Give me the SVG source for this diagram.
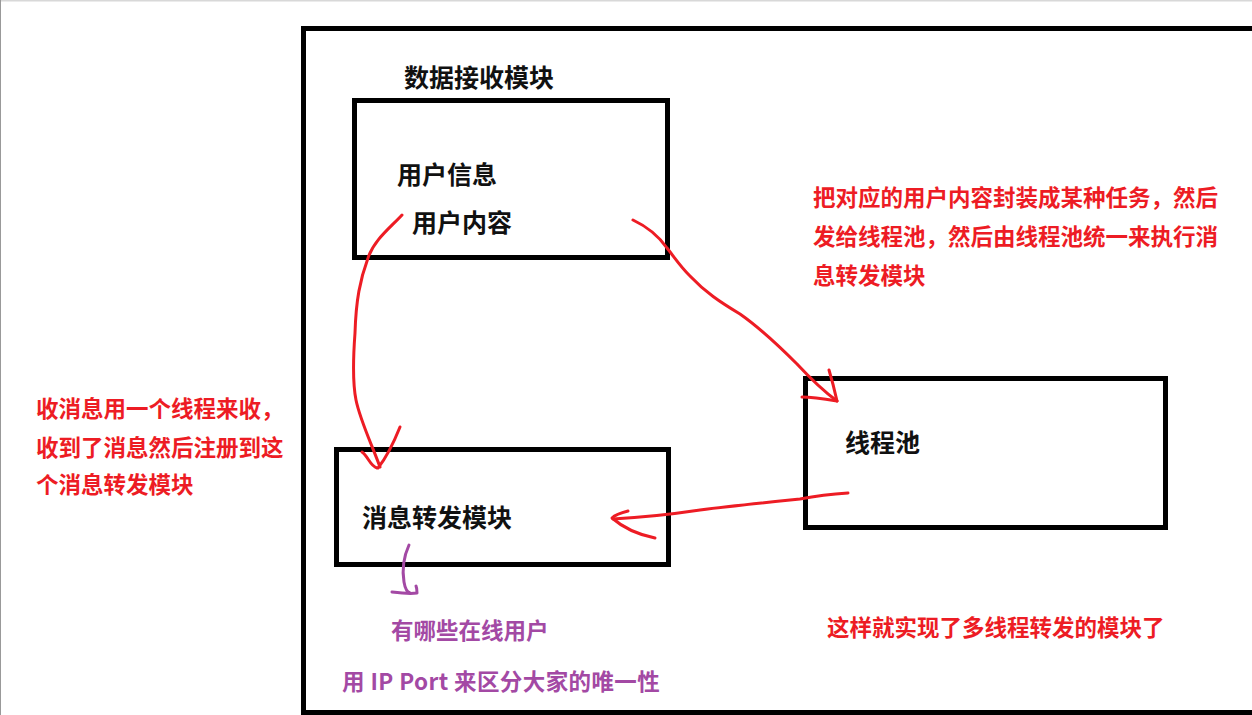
<svg xmlns="http://www.w3.org/2000/svg" width="1252" height="715" viewBox="0 0 1252 715">
<style>
.box{fill:none;stroke:#000;stroke-width:5}
.lbl{font-family:"Noto Sans CJK SC","Noto Sans",sans-serif;font-weight:bold;font-size:25px;fill:#111}
.red{font-family:"Noto Sans CJK SC","Noto Sans",sans-serif;font-weight:bold;font-size:22.5px;fill:#ED1C24}
.pur{font-family:"Noto Sans CJK SC","Noto Sans",sans-serif;font-weight:bold;font-size:22.5px;fill:#A349A4}
.rl{fill:none;stroke:#ED1C24;stroke-width:3;stroke-linecap:round;stroke-linejoin:round}
.pl{fill:none;stroke:#A349A4;stroke-width:3;stroke-linecap:round;stroke-linejoin:round}
</style>
<rect x="0" y="0" width="1252" height="715" fill="#fff"/>
<line x1="0" y1="0.5" x2="1252" y2="0.5" stroke="#d8d8d8" stroke-width="2"/>
<line x1="0.5" y1="0" x2="0.5" y2="715" stroke="#999" stroke-width="1"/>
<g id="frame">
<rect class="box" x="303.5" y="28.5" width="1237" height="684"/>
</g>
<g id="receiver">
<text class="lbl" x="404" y="87">数据接收模块</text>
<rect class="box" x="354.5" y="100.5" width="313" height="157"/>
<text class="lbl" x="397" y="184">用户信息</text>
<text class="lbl" x="412" y="232">用户内容</text>
</g>
<g id="forwarder">
<rect class="box" x="336.5" y="449.5" width="332" height="115"/>
<text class="lbl" x="362" y="527">消息转发模块</text>
</g>
<g id="threadpool">
<rect class="box" x="805.5" y="378.5" width="360" height="149"/>
<text class="lbl" x="845" y="452">线程池</text>
</g>
<g id="notes">
<text class="red" x="813" y="206">把对应的用户内容封装成某种任务，然后</text>
<text class="red" x="813" y="245">发给线程池，然后由线程池统一来执行消</text>
<text class="red" x="813" y="284">息转发模块</text>
<text class="red" x="36" y="417">收消息用一个线程来收，</text>
<text class="red" x="36" y="456">收到了消息然后注册到这</text>
<text class="red" x="36" y="493">个消息转发模块</text>
<text class="red" x="827" y="636">这样就实现了多线程转发的模块了</text>
<text class="pur" x="391" y="639">有哪些在线用户</text>
<text class="pur" x="342" y="690" letter-spacing="0.4">用 IP Port 来区分大家的唯一性</text>
</g>
<g id="connectors">
<path class="rl" d="M402,215 C390,228 374,240 368,258 C360,280 356,300 355,333 C353,360 353,385 356,400 C360,420 372,445 380,467"/>
<path class="rl" d="M400,427 C394,442 386,458 378,468 M362,452 C368,456 370,466 377,468"/>
<path class="rl" d="M633,220 C650,228 660,238 667,248 C675,258 680,266 690,276 C705,292 720,302 740,314 C760,328 775,342 797,364 C810,378 822,390 837,401"/>
<path class="rl" d="M829,370 C832,380 835,392 837,401 C825,399 812,397 802,397"/>
<path class="rl" d="M848,493 C830,494 815,496 800,499 C770,502 730,506 700,510 C680,513 650,517 613,519"/>
<path class="rl" d="M628,511 C620,513 614,516 612,518 C620,525 635,534 655,538"/>
<path class="pl" d="M409,545 C404,556 402,570 404,582 C405,588 407,592 410,593 M392,592 C400,593 410,594 417,593 C417,590 417,588 416,586"/>
</g>
</svg>
